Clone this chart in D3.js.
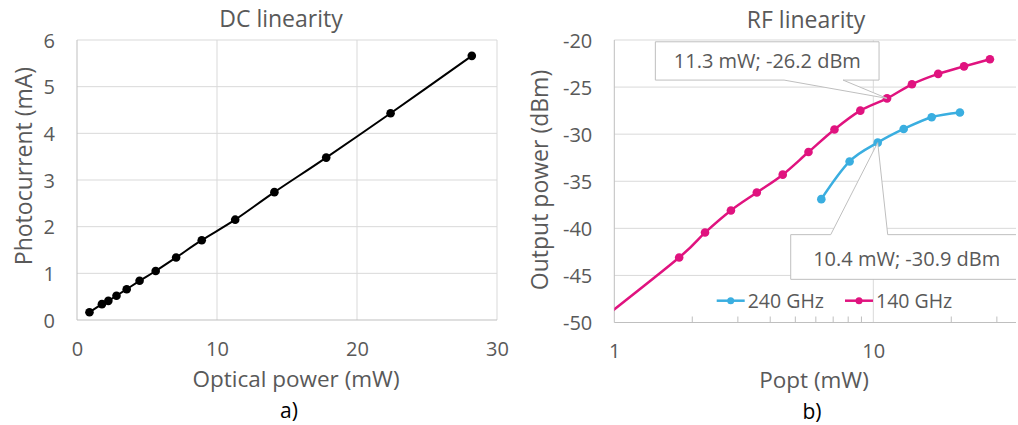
<!DOCTYPE html>
<html><head><meta charset="utf-8">
<script src="https://cdn.jsdelivr.net/npm/d3@7"></script>
<style>
html,body{margin:0;padding:0;background:#fff;}
svg{display:block;font-family:"Open Sans",sans-serif;}
</style></head>
<body>
<svg id="c" width="1018" height="425"></svg>
<script>
// ---- data ----
const dcPower   = [0.89, 1.78, 2.24, 2.82, 3.55, 4.47, 5.62, 7.08, 8.91, 11.3, 14.1, 17.8, 22.4, 28.2];
const dcCurrent = [0.165, 0.34, 0.41, 0.52, 0.66, 0.84, 1.05, 1.34, 1.71, 2.15, 2.74, 3.48, 4.43, 5.66];
const rf140Power = [0.89, 1.78, 2.24, 2.82, 3.55, 4.47, 5.62, 7.08, 8.91, 11.3, 14.1, 17.8, 22.4, 28.2];
const rf140Out   = [-49.7, -43.1, -40.45, -38.1, -36.2, -34.3, -31.9, -29.5, -27.5, -26.2, -24.7, -23.6, -22.8, -22.05];
const rf240Power = [6.3, 8.1, 10.4, 13.1, 16.8, 21.6];
const rf240Out   = [-36.9, -32.9, -30.9, -29.45, -28.2, -27.7];
const dcXTicks = [0, 10, 20, 30];
const dcYTicks = [0, 1, 2, 3, 4, 5, 6];
const rfXTicks = [1, 10];
const rfYTicks = [-50, -45, -40, -35, -30, -25, -20];
const seriesNames = ["240 GHz", "140 GHz"];
const labels140 = "11.3 mW; -26.2 dBm";
const labels240 = "10.4 mW; -30.9 dBm";

const TXT = "#595959", GRID = "#d9d9d9", AXIS = "#bfbfbf";
const PINK = "#e0137f", BLUE = "#3aaee0";
const FONT = '"Open Sans",sans-serif';
const fmt = d => String(d);
const svg = d3.select("#c");

// ---------------- Left chart: DC linearity ----------------
const xL = d3.scaleLinear().domain([0, 30]).range([77, 497]);
const yL = d3.scaleLinear().domain([0, 6]).range([320, 40]);
const gL = svg.append("g");

gL.selectAll("line.hg").data(dcYTicks.filter(d => d > 0)).join("line")
  .attr("x1", xL(0)).attr("x2", xL(30)).attr("y1", d => yL(d)).attr("y2", d => yL(d))
  .attr("stroke", GRID).attr("stroke-width", 1);
gL.selectAll("line.vg").data(dcXTicks.filter(d => d > 0)).join("line")
  .attr("y1", yL(0)).attr("y2", yL(6)).attr("x1", d => xL(d)).attr("x2", d => xL(d))
  .attr("stroke", GRID).attr("stroke-width", 1);
gL.append("line").attr("x1", xL(0)).attr("x2", xL(0)).attr("y1", yL(0)).attr("y2", yL(6)).attr("stroke", AXIS);
gL.append("line").attr("x1", xL(0)).attr("x2", xL(30)).attr("y1", yL(0)).attr("y2", yL(0)).attr("stroke", AXIS);

const axLX = d3.axisBottom(xL).tickValues(dcXTicks).tickFormat(fmt).tickSize(0).tickPadding(0);
gL.append("g").attr("transform", `translate(0,${yL(0)})`).call(axLX)
  .call(g => { g.select(".domain").remove();
    g.selectAll("text").attr("fill", TXT).attr("font-size", 20).attr("font-family", FONT)
     .attr("dy", null).attr("y", 36); });
const axLY = d3.axisLeft(yL).tickValues(dcYTicks).tickFormat(fmt).tickSize(0).tickPadding(0);
gL.append("g").attr("transform", `translate(${xL(0)},0)`).call(axLY)
  .call(g => { g.select(".domain").remove();
    g.selectAll("text").attr("fill", TXT).attr("font-size", 20).attr("font-family", FONT)
     .attr("x", -22).attr("dy", "0.35em"); });

const dcData = dcPower.map((p, i) => [p, dcCurrent[i]]);
gL.append("path").datum(dcData)
  .attr("d", d3.line().x(d => xL(d[0])).y(d => yL(d[1])).curve(d3.curveCardinal.tension(0)))
  .attr("fill", "none").attr("stroke", "#000").attr("stroke-width", 2);
gL.selectAll("circle.dc").data(dcData).join("circle")
  .attr("cx", d => xL(d[0])).attr("cy", d => yL(d[1])).attr("r", 4.3).attr("fill", "#000");

gL.append("text").attr("x", 281).attr("y", 27).attr("text-anchor", "middle")
  .attr("fill", TXT).attr("font-size", 23).text("DC linearity");
gL.append("text").attr("x", 296).attr("y", 387).attr("text-anchor", "middle")
  .attr("fill", TXT).attr("font-size", 22.5).text("Optical power (mW)");
gL.append("text").attr("transform", "translate(32,166) rotate(-90)").attr("text-anchor", "middle")
  .attr("fill", TXT).attr("font-size", 23).text("Photocurrent (mA)");
gL.append("text").attr("x", 289).attr("y", 418).attr("text-anchor", "middle")
  .attr("fill", "#000").attr("font-size", 21).text("a)");

// ---------------- Right chart: RF linearity ----------------
const xR = d3.scaleLog().domain([1, 100]).range([614.3, 1132.3]);
const yR = d3.scaleLinear().domain([-50, -20]).range([322.5, 40]);
const plotRight = 1016;
const gR = svg.append("g");
svg.append("defs").append("clipPath").attr("id", "clipR").append("rect")
  .attr("x", xR(1)).attr("y", yR(-20) - 10).attr("width", plotRight - xR(1)).attr("height", yR(-50) - yR(-20) + 10);

gR.selectAll("line.hg").data(rfYTicks.filter(d => d > -50)).join("line")
  .attr("x1", xR(1)).attr("x2", plotRight).attr("y1", d => yR(d)).attr("y2", d => yR(d))
  .attr("stroke", GRID);
gR.append("line").attr("x1", xR(10)).attr("x2", xR(10)).attr("y1", yR(-50)).attr("y2", yR(-20)).attr("stroke", GRID);
gR.append("line").attr("x1", xR(1)).attr("x2", xR(1)).attr("y1", yR(-50)).attr("y2", yR(-20)).attr("stroke", AXIS);
gR.append("line").attr("x1", xR(1)).attr("x2", plotRight).attr("y1", yR(-50)).attr("y2", yR(-50)).attr("stroke", AXIS);
const minor = [2,3,4,5,6,7,8,9,20,30,40,50,60,70,80,90].filter(v => xR(v) < plotRight);
gR.selectAll("line.mt").data(minor).join("line")
  .attr("x1", d => xR(d)).attr("x2", d => xR(d)).attr("y1", yR(-50)).attr("y2", yR(-50) - 6).attr("stroke", AXIS);

const axRX = d3.axisBottom(xR).tickValues(rfXTicks).tickFormat(fmt).tickSize(0).tickPadding(0);
gR.append("g").attr("transform", `translate(0,${yR(-50)})`).call(axRX)
  .call(g => { g.select(".domain").remove();
    g.selectAll("text").attr("fill", TXT).attr("font-size", 20).attr("font-family", FONT)
     .attr("dy", null).attr("y", 35); });
const axRY = d3.axisLeft(yR).tickValues(rfYTicks).tickFormat(fmt).tickSize(0).tickPadding(0);
gR.append("g").attr("transform", `translate(${xR(1)},0)`).call(axRY)
  .call(g => { g.select(".domain").remove();
    g.selectAll("text").attr("fill", TXT).attr("font-size", 20).attr("font-family", FONT)
     .attr("x", -22).attr("dy", "0.35em"); });

const lineR = d3.line().x(d => xR(d[0])).y(d => yR(d[1])).curve(d3.curveCardinal.tension(0));
const d140 = rf140Power.map((p, i) => [p, rf140Out[i]]);
const d240 = rf240Power.map((p, i) => [p, rf240Out[i]]);
const series = [{data: d240, color: BLUE}, {data: d140, color: PINK}];
const gS = gR.append("g").attr("clip-path", "url(#clipR)");
series.forEach(s => {
  gS.append("path").datum(s.data).attr("d", lineR).attr("fill", "none")
    .attr("stroke", s.color).attr("stroke-width", 2.5);
  gS.selectAll(null).data(s.data.filter(d => d[0] >= 1)).join("circle")
    .attr("cx", d => xR(d[0])).attr("cy", d => yR(d[1])).attr("r", 4.3).attr("fill", s.color);
});

function callout(pt, box, wedge, text, tx, ty, wedgeBottom) {
  const px = xR(pt[0]), py = yR(pt[1]);
  const L = px + box[0], R = px + box[1], T = py + box[2], B = py + box[3];
  const w1 = px + wedge[0], w2 = px + wedge[1];
  let p;
  if (wedgeBottom) p = `M${L},${T}H${R}V${B}H${w2}L${px},${py}L${w1},${B}H${L}Z`;
  else p = `M${L},${T}H${w1}L${px},${py}L${w2},${T}H${R}V${B}H${L}Z`;
  gS.append("path").attr("d", p).attr("fill", "#fff").attr("stroke", AXIS).attr("stroke-width", 1);
  gS.append("text").attr("x", px + tx).attr("y", py + ty).attr("text-anchor", "middle")
    .attr("fill", TXT).attr("font-size", 20).text(text);
}
callout([11.3, -26.2], [-231.7, -8, -56.6, -18.3], [-103, -44], labels140, -119.7, -30, true);
callout([10.4, -30.9], [-87, 200, 92, 136.7], [-47, 10], labels240, 29, 123, false);

const lg = gR.append("g");
const legX = [716.7, 845], legY = 300.7;
series.forEach((s, i) => {
  lg.append("line").attr("x1", legX[i]).attr("x2", legX[i] + 28).attr("y1", legY).attr("y2", legY)
    .attr("stroke", s.color).attr("stroke-width", 2.5);
  lg.append("circle").attr("cx", legX[i] + 14).attr("cy", legY).attr("r", 3.5).attr("fill", s.color);
  lg.append("text").attr("x", legX[i] + 31).attr("y", legY + 7).attr("fill", TXT)
    .attr("font-size", 19.5).text(seriesNames[i]);
});

gR.append("text").attr("x", 806).attr("y", 28).attr("text-anchor", "middle")
  .attr("fill", TXT).attr("font-size", 23).text("RF linearity");
gR.append("text").attr("x", 814).attr("y", 388).attr("text-anchor", "middle")
  .attr("fill", TXT).attr("font-size", 22.5).text("Popt (mW)");
gR.append("text").attr("transform", "translate(548,180) rotate(-90)").attr("text-anchor", "middle")
  .attr("fill", TXT).attr("font-size", 23).text("Output power (dBm)");
gR.append("text").attr("x", 812).attr("y", 419).attr("text-anchor", "middle")
  .attr("fill", "#000").attr("font-size", 21).text("b)");
</script>
</body></html>
